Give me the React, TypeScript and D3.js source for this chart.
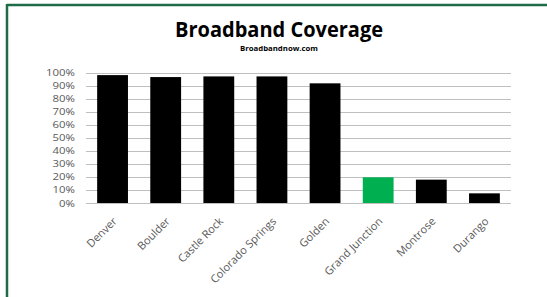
import React from "react";
import * as d3 from "d3";

const categories = ["Denver", "Boulder", "Castle Rock", "Colorado Springs", "Golden", "Grand Junction", "Montrose", "Durango"];
const coverage = [98, 96.5, 97, 97, 91.7, 19.7, 17.9, 7.4];
const highlight = ["Grand Junction"];
const yTicks = [0, 10, 20, 30, 40, 50, 60, 70, 80, 90, 100];

export default function App() {
  const W = 547, H = 297;
  const x = d3.scaleBand<string>().domain(categories).range([86, 511]).paddingInner(0.42).paddingOuter(0.21);
  const y = d3.scaleLinear().domain([0, 100]).range([203, 72.5]);
  const font = "'Open Sans', 'Liberation Sans', sans-serif";
  return (
    <svg width={W} height={H} style={{ position: "absolute", left: 0, top: 0, background: "#fff" }} fontFamily={font}>
      <rect x={0} y={0} width={W} height={H} fill="#fff" />
      <line x1={7} y1={5} x2={W} y2={5} stroke="#1d6b47" strokeWidth={2.5} />
      <line x1={7} y1={4} x2={7} y2={H} stroke="#1d6b47" strokeWidth={2.5} />
      <text x={279} y={37} textAnchor="middle" fontSize={20.5} fontWeight="bold" fill="#000"
        textLength={208} lengthAdjust="spacingAndGlyphs">Broadband Coverage</text>
      <text x={279} y={51} textAnchor="middle" fontSize={7.5} fontWeight="bold" fill="#000"
        textLength={78} lengthAdjust="spacingAndGlyphs">Broadbandnow.com</text>
      {yTicks.map(t => (
        <g key={t}>
          <line x1={86} x2={511} y1={Math.round(y(t)) + 0.5} y2={Math.round(y(t)) + 0.5} stroke="#bfbfbf" strokeWidth={1} />
          <text transform={`translate(75 ${y(t) + 3.5}) scale(1.2 1)`} textAnchor="end" fontSize={9.5} fill="#595959">{t}%</text>
        </g>
      ))}
      {categories.map((c, i) => (
        <rect key={c} x={x(c)} y={y(coverage[i])} width={x.bandwidth()} height={y(0) - y(coverage[i])}
          fill={highlight.includes(c) ? "#00b050" : "#000"} />
      ))}
      {categories.map(c => {
        const cx = (x(c) as number) + x.bandwidth() / 2 + 5;
        const cy = 222;
        return (
          <text key={c} x={cx} y={cy} transform={`rotate(-45 ${cx} ${cy})`} textAnchor="end" fontSize={11} fill="#595959">{c}</text>
        );
      })}
    </svg>
  );
}
